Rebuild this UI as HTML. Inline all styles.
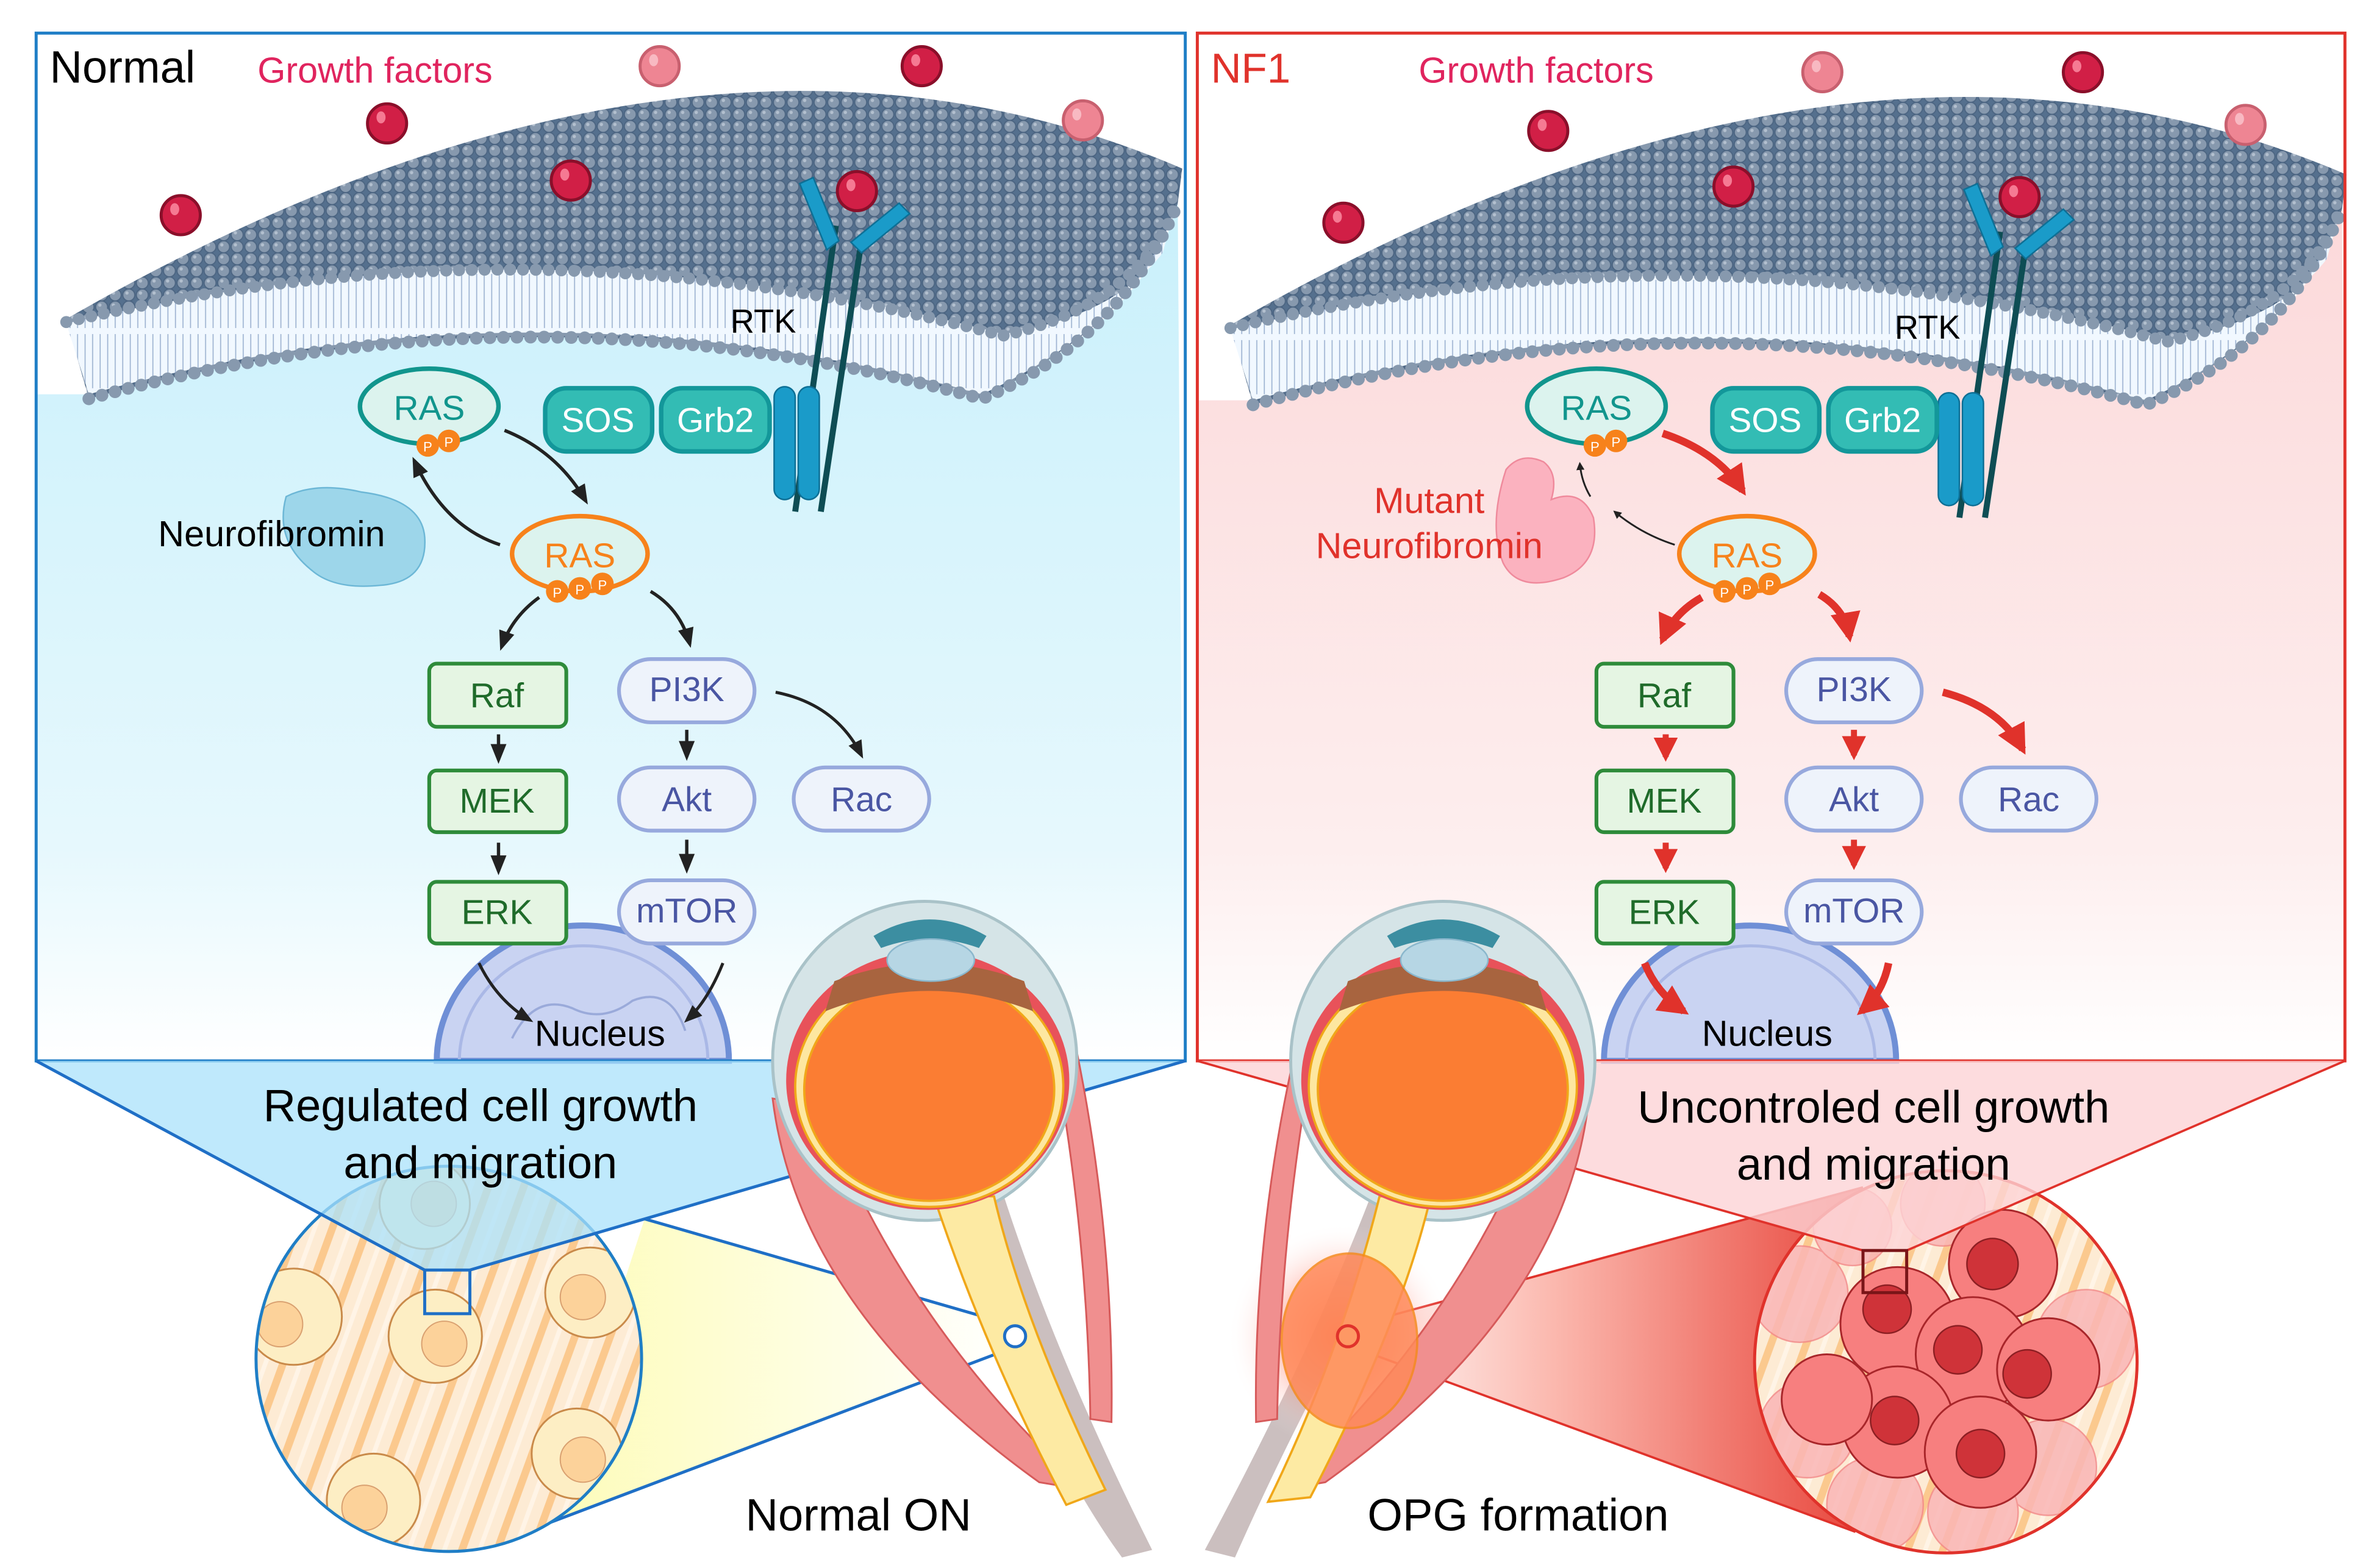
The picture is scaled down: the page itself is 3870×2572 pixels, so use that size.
<!DOCTYPE html>
<html><head><meta charset="utf-8"><style>
html,body{margin:0;padding:0;background:#fff}
svg{display:block}
text{font-family:"Liberation Sans",sans-serif}
</style></head><body>
<svg width="3870" height="2572" viewBox="0 0 1567 1042" preserveAspectRatio="none" xmlns="http://www.w3.org/2000/svg">
<defs>
<pattern id="heads" width="9" height="8" patternUnits="userSpaceOnUse">
<rect width="9" height="8" fill="#55708e"/>
<circle cx="4.5" cy="4" r="4" fill="#8799ae" stroke="#4c6582" stroke-width="0.8"/>
<circle cx="3.3" cy="2.7" r="1.1" fill="#b3c0cf"/>
</pattern>
<pattern id="tails" width="5" height="40" patternUnits="userSpaceOnUse">
<rect width="5" height="40" fill="#f1f8ff"/>
<line x1="1.5" y1="0" x2="1.5" y2="18" stroke="#9fb4d2" stroke-width="0.7"/>
<line x1="1.5" y1="22" x2="1.5" y2="40" stroke="#9fb4d2" stroke-width="0.7"/>
</pattern>
<linearGradient id="bgB" x1="0" y1="0" x2="0" y2="1"><stop offset="0" stop-color="#c9f0fb"/><stop offset="0.75" stop-color="#e6f8fd"/><stop offset="1" stop-color="#ffffff"/></linearGradient>
<linearGradient id="bgR" x1="0" y1="0" x2="0" y2="1"><stop offset="0" stop-color="#fcd9da"/><stop offset="0.75" stop-color="#fdeeee"/><stop offset="1" stop-color="#ffffff"/></linearGradient>
<linearGradient id="yel" x1="0" y1="0" x2="1" y2="0"><stop offset="0" stop-color="#fdfcb8"/><stop offset="1" stop-color="#ffffff"/></linearGradient>
<linearGradient id="redf" x1="0" y1="0" x2="1" y2="0"><stop offset="0" stop-color="#ffffff"/><stop offset="0.4" stop-color="#fbb8ae"/><stop offset="1" stop-color="#e8463c"/></linearGradient>
<radialGradient id="glow"><stop offset="0" stop-color="#ff5a3a" stop-opacity="0.9"/><stop offset="0.5" stop-color="#ff7a66" stop-opacity="0.45"/><stop offset="1" stop-color="#ffffff" stop-opacity="0"/></radialGradient>
<pattern id="stripes" width="22" height="22" patternUnits="userSpaceOnUse" patternTransform="rotate(20)">
<rect width="22" height="22" fill="#fdebd4"/><rect x="0" width="5" height="22" fill="#fbc98e"/><rect x="12" width="3" height="22" fill="#fff4e6"/>
</pattern>
<clipPath id="cL"><circle cx="298" cy="903" r="127"/></clipPath>
<clipPath id="cR"><circle cx="1292" cy="905" r="126"/></clipPath>
<marker id="ab" viewBox="0 0 10 10" refX="8" refY="5" markerWidth="4.5" markerHeight="4.5" orient="auto"><path d="M0,0 L10,5 L0,10 z" fill="#222"/></marker>
<marker id="abs" viewBox="0 0 10 10" refX="8" refY="5" markerWidth="6" markerHeight="6" orient="auto"><path d="M0,1 L10,5 L0,9 z" fill="#222"/></marker>
<marker id="ar" viewBox="0 0 10 10" refX="8" refY="5" markerWidth="4" markerHeight="4" orient="auto"><path d="M0,0 L10,5 L0,10 z" fill="#e0322b"/></marker>
<g id="membrane">
<path d="M44,212 Q459,-28 785,112 L782,135 Q760,210 652,265 Q355,183 59,265 Z" fill="url(#heads)"/>
<path d="M44,215 Q355,140 666,222 Q740,210 772,168 L782,132 Q760,212 652,262 Q355,180 59,262 Z" fill="url(#tails)"/>
<path d="M44,214 Q355,140 666,223 Q745,205 775,150" fill="none" stroke="#8799ae" stroke-width="8" stroke-dasharray="0 8.5" stroke-linecap="round"/>
<path d="M59,265 Q355,183 652,265 Q745,225 782,135" fill="none" stroke="#8799ae" stroke-width="8.5" stroke-dasharray="0 9" stroke-linecap="round"/>
</g>
<g id="rtk">
<line x1="555" y1="150" x2="528" y2="340" stroke="#0e4d54" stroke-width="4"/>
<line x1="572" y1="160" x2="545" y2="340" stroke="#0e4d54" stroke-width="4"/>
<path d="M531,122 L540,118 L557,160 L549,166 Z" fill="#1a9bc9" stroke="#0d6f95"/>
<path d="M597,135 L604,142 L572,168 L565,161 Z" fill="#1a9bc9" stroke="#0d6f95"/>
<rect x="514" y="257" width="14" height="75" rx="7" fill="#1a9bc9" stroke="#0d6f95"/>
<rect x="530" y="257" width="14" height="75" rx="7" fill="#1a9bc9" stroke="#0d6f95"/>
<text x="485" y="221" font-size="22" fill="#000">RTK</text>
</g>
<g id="ball"><ellipse cx="0" cy="0" rx="13" ry="13" fill="#d11f46" stroke="#8a0f2a" stroke-width="2"/><ellipse cx="-4" cy="-4" rx="3" ry="4" fill="#f57a93"/></g>
<g id="ballL"><ellipse cx="0" cy="0" rx="13" ry="13" fill="#ee8593" stroke="#c8606f" stroke-width="2"/><ellipse cx="-4" cy="-4" rx="3" ry="4" fill="#f8b9c2"/></g>
</defs>

<!-- ============ LEFT PANEL ============ -->
<rect x="24" y="22" width="763" height="683" fill="#fff"/>
<path d="M56,262 Q355,180 652,262 Q760,215 782,135 L786,705 L24,705 L24,262 Z" fill="url(#bgB)"/>
<use href="#membrane"/>
<use href="#rtk"/>
<use href="#ballL" x="438" y="44"/><use href="#ball" x="612" y="44"/><use href="#ball" x="257" y="82"/><use href="#ballL" x="719" y="80"/><use href="#ball" x="120" y="143"/><use href="#ball" x="379" y="120"/><use href="#ball" x="569" y="127"/>
<text x="33" y="55" font-size="30" fill="#000">Normal</text>
<text x="171" y="55" font-size="24" fill="#e0245e">Growth factors</text>

<path d="M290,705 A97,90 0 0 1 484,705 Z" fill="#c9d3f2" stroke="#6f8fd6" stroke-width="4"/>
<path d="M305,705 A82,76 0 0 1 470,705" fill="none" stroke="#aab8e6" stroke-width="2"/>
<path d="M340,690 q15,-30 40,-20 q20,10 40,-5 q25,-10 35,20" fill="none" stroke="#9aaada" stroke-width="1.5"/>
<text x="355" y="695" font-size="24" fill="#000">Nucleus</text>

<path d="M190,330 q20,-10 50,-3 q40,5 42,30 q2,30 -30,32 q-30,3 -45,-10 q-25,-20 -17,-49z" fill="#9dd6ea" stroke="#6cb7d6"/>
<text x="105" y="363" font-size="24" fill="#000">Neurofibromin</text>

<ellipse cx="285" cy="270" rx="46" ry="25" fill="#dcf3ee" stroke="#11958d" stroke-width="3"/>
<text x="285" y="279" font-size="23" fill="#11958d" text-anchor="middle">RAS</text>
<circle cx="284" cy="296" r="7.5" fill="#f7821b"/><circle cx="298" cy="293" r="7.5" fill="#f7821b"/>
<text x="284" y="300" font-size="9" fill="#fff" text-anchor="middle">P</text><text x="298" y="297" font-size="9" fill="#fff" text-anchor="middle">P</text>
<rect x="362" y="258" width="71" height="42" rx="14" fill="#33bcb4" stroke="#13979a" stroke-width="3"/>
<text x="397" y="287" font-size="23" fill="#fff" text-anchor="middle">SOS</text>
<rect x="439" y="258" width="72" height="42" rx="14" fill="#33bcb4" stroke="#13979a" stroke-width="3"/>
<text x="475" y="287" font-size="23" fill="#fff" text-anchor="middle">Grb2</text>
<ellipse cx="385" cy="368" rx="45" ry="25" fill="#dcf3ee" stroke="#f7821b" stroke-width="3"/>
<text x="385" y="377" font-size="23" fill="#f7821b" text-anchor="middle">RAS</text>
<circle cx="370" cy="393" r="7.5" fill="#f7821b"/><circle cx="385" cy="391" r="7.5" fill="#f7821b"/><circle cx="400" cy="388" r="7.5" fill="#f7821b"/>
<text x="370" y="397" font-size="9" fill="#fff" text-anchor="middle">P</text><text x="385" y="395" font-size="9" fill="#fff" text-anchor="middle">P</text><text x="400" y="392" font-size="9" fill="#fff" text-anchor="middle">P</text>
<path d="M335,286 Q370,300 389,333" fill="none" stroke="#222" stroke-width="2.2" marker-end="url(#abs)"/>
<path d="M332,362 Q295,350 275,306" fill="none" stroke="#222" stroke-width="2.2" marker-end="url(#abs)"/>
<path d="M358,397 Q340,410 333,430" fill="none" stroke="#222" stroke-width="2.2" marker-end="url(#abs)"/>
<path d="M432,393 Q452,405 458,428" fill="none" stroke="#222" stroke-width="2.2" marker-end="url(#abs)"/>
<path d="M515,460 Q555,468 572,502" fill="none" stroke="#222" stroke-width="2" marker-end="url(#abs)"/>
<line x1="331" y1="488" x2="331" y2="505" stroke="#222" stroke-width="2.2" marker-end="url(#abs)"/>
<line x1="331" y1="560" x2="331" y2="579" stroke="#222" stroke-width="2.2" marker-end="url(#abs)"/>
<line x1="456" y1="485" x2="456" y2="503" stroke="#222" stroke-width="2.2" marker-end="url(#abs)"/>
<line x1="456" y1="558" x2="456" y2="578" stroke="#222" stroke-width="2.2" marker-end="url(#abs)"/>
<path d="M318,640 Q330,665 352,678" fill="none" stroke="#222" stroke-width="2" marker-end="url(#abs)"/>
<path d="M480,640 Q470,665 456,678" fill="none" stroke="#222" stroke-width="2" marker-end="url(#abs)"/>
<g font-size="23" text-anchor="middle">
<rect x="285" y="441" width="91" height="42" rx="5" fill="#e5f5e3" stroke="#2e8b3a" stroke-width="2.5"/><text x="330" y="470" fill="#1f6b2a">Raf</text>
<rect x="285" y="512" width="91" height="41" rx="5" fill="#e5f5e3" stroke="#2e8b3a" stroke-width="2.5"/><text x="330" y="540" fill="#1f6b2a">MEK</text>
<rect x="285" y="586" width="91" height="41" rx="5" fill="#e5f5e3" stroke="#2e8b3a" stroke-width="2.5"/><text x="330" y="614" fill="#1f6b2a">ERK</text>
<rect x="411" y="438" width="90" height="42" rx="21" fill="#eef3fb" stroke="#97a9dd" stroke-width="2.5"/><text x="456" y="466" fill="#4a56a3">PI3K</text>
<rect x="411" y="510" width="90" height="42" rx="21" fill="#eef3fb" stroke="#97a9dd" stroke-width="2.5"/><text x="456" y="539" fill="#4a56a3">Akt</text>
<rect x="411" y="585" width="90" height="42" rx="21" fill="#eef3fb" stroke="#97a9dd" stroke-width="2.5"/><text x="456" y="613" fill="#4a56a3">mTOR</text>
<rect x="527" y="510" width="90" height="42" rx="21" fill="#eef3fb" stroke="#97a9dd" stroke-width="2.5"/><text x="572" y="539" fill="#4a56a3">Rac</text>
</g>
<rect x="24" y="22" width="763" height="683" fill="none" stroke="#1f7ec6" stroke-width="2"/>

<!-- ============ RIGHT PANEL ============ -->
<rect x="795" y="22" width="762" height="683" fill="#fff"/>
<g transform="translate(773,4)">
<path d="M56,262 Q355,180 652,262 Q760,215 782,135 L786,701 L22,701 L22,262 Z" fill="url(#bgR)"/>
<use href="#membrane"/>
<use href="#rtk"/>
</g>
<use href="#ballL" x="1210" y="48"/><use href="#ball" x="1383" y="48"/><use href="#ball" x="1028" y="87"/><use href="#ballL" x="1491" y="83"/><use href="#ball" x="892" y="148"/><use href="#ball" x="1151" y="124"/><use href="#ball" x="1341" y="131"/>
<text x="804" y="55" font-size="28" fill="#e0322b">NF1</text>
<text x="942" y="55" font-size="24" fill="#e0245e">Growth factors</text>

<path d="M1065,705 A97,90 0 0 1 1259,705 Z" fill="#c9d3f2" stroke="#6f8fd6" stroke-width="4"/>
<path d="M1080,705 A82,76 0 0 1 1245,705" fill="none" stroke="#aab8e6" stroke-width="2"/>
<text x="1130" y="695" font-size="24" fill="#000">Nucleus</text>

<path d="M1000,312 q10,-12 25,-5 q10,8 5,25 q20,-8 28,12 q5,30 -20,40 q-30,10 -40,-10 q-10,-25 2,-62z" fill="#fbb2bf" stroke="#ef8a9c"/>
<text x="949" y="341" font-size="24" fill="#e0322b" text-anchor="middle">Mutant</text>
<text x="949" y="371" font-size="24" fill="#e0322b" text-anchor="middle">Neurofibromin</text>

<ellipse cx="1060" cy="270" rx="46" ry="25" fill="#dcf3ee" stroke="#11958d" stroke-width="3"/>
<text x="1060" y="279" font-size="23" fill="#11958d" text-anchor="middle">RAS</text>
<circle cx="1059" cy="296" r="7.5" fill="#f7821b"/><circle cx="1073" cy="293" r="7.5" fill="#f7821b"/>
<text x="1059" y="300" font-size="9" fill="#fff" text-anchor="middle">P</text><text x="1073" y="297" font-size="9" fill="#fff" text-anchor="middle">P</text>
<rect x="1137" y="258" width="71" height="42" rx="14" fill="#33bcb4" stroke="#13979a" stroke-width="3"/>
<text x="1172" y="287" font-size="23" fill="#fff" text-anchor="middle">SOS</text>
<rect x="1214" y="258" width="72" height="42" rx="14" fill="#33bcb4" stroke="#13979a" stroke-width="3"/>
<text x="1250" y="287" font-size="23" fill="#fff" text-anchor="middle">Grb2</text>
<ellipse cx="1160" cy="368" rx="45" ry="25" fill="#dcf3ee" stroke="#f7821b" stroke-width="3"/>
<text x="1160" y="377" font-size="23" fill="#f7821b" text-anchor="middle">RAS</text>
<circle cx="1145" cy="393" r="7.5" fill="#f7821b"/><circle cx="1160" cy="391" r="7.5" fill="#f7821b"/><circle cx="1175" cy="388" r="7.5" fill="#f7821b"/>
<text x="1145" y="397" font-size="9" fill="#fff" text-anchor="middle">P</text><text x="1160" y="395" font-size="9" fill="#fff" text-anchor="middle">P</text><text x="1175" y="392" font-size="9" fill="#fff" text-anchor="middle">P</text>
<path d="M1104,288 Q1140,300 1157,326" fill="none" stroke="#e0322b" stroke-width="5" marker-end="url(#ar)"/>
<path d="M1112,362 Q1090,355 1072,340" fill="none" stroke="#222" stroke-width="1.2" marker-end="url(#ab)"/>
<path d="M1056,330 Q1050,320 1049,308" fill="none" stroke="#222" stroke-width="1.2" marker-end="url(#ab)"/>
<path d="M1130,397 Q1112,407 1104,425" fill="none" stroke="#e0322b" stroke-width="5" marker-end="url(#ar)"/>
<path d="M1208,395 Q1225,405 1228,423" fill="none" stroke="#e0322b" stroke-width="5" marker-end="url(#ar)"/>
<path d="M1290,460 Q1328,470 1343,498" fill="none" stroke="#e0322b" stroke-width="5" marker-end="url(#ar)"/>
<line x1="1106" y1="488" x2="1106" y2="503" stroke="#e0322b" stroke-width="4" marker-end="url(#ar)"/>
<line x1="1106" y1="560" x2="1106" y2="577" stroke="#e0322b" stroke-width="4" marker-end="url(#ar)"/>
<line x1="1231" y1="485" x2="1231" y2="502" stroke="#e0322b" stroke-width="4" marker-end="url(#ar)"/>
<line x1="1231" y1="558" x2="1231" y2="575" stroke="#e0322b" stroke-width="4" marker-end="url(#ar)"/>
<path d="M1092,640 Q1100,660 1118,672" fill="none" stroke="#e0322b" stroke-width="5" marker-end="url(#ar)"/>
<path d="M1254,640 Q1250,660 1236,672" fill="none" stroke="#e0322b" stroke-width="5" marker-end="url(#ar)"/>
<g font-size="23" text-anchor="middle">
<rect x="1060" y="441" width="91" height="42" rx="5" fill="#e5f5e3" stroke="#2e8b3a" stroke-width="2.5"/><text x="1105" y="470" fill="#1f6b2a">Raf</text>
<rect x="1060" y="512" width="91" height="41" rx="5" fill="#e5f5e3" stroke="#2e8b3a" stroke-width="2.5"/><text x="1105" y="540" fill="#1f6b2a">MEK</text>
<rect x="1060" y="586" width="91" height="41" rx="5" fill="#e5f5e3" stroke="#2e8b3a" stroke-width="2.5"/><text x="1105" y="614" fill="#1f6b2a">ERK</text>
<rect x="1186" y="438" width="90" height="42" rx="21" fill="#eef3fb" stroke="#97a9dd" stroke-width="2.5"/><text x="1231" y="466" fill="#4a56a3">PI3K</text>
<rect x="1186" y="510" width="90" height="42" rx="21" fill="#eef3fb" stroke="#97a9dd" stroke-width="2.5"/><text x="1231" y="539" fill="#4a56a3">Akt</text>
<rect x="1186" y="585" width="90" height="42" rx="21" fill="#eef3fb" stroke="#97a9dd" stroke-width="2.5"/><text x="1231" y="613" fill="#4a56a3">mTOR</text>
<rect x="1302" y="510" width="90" height="42" rx="21" fill="#eef3fb" stroke="#97a9dd" stroke-width="2.5"/><text x="1347" y="539" fill="#4a56a3">Rac</text>
</g>
<rect x="795" y="22" width="762" height="683" fill="none" stroke="#e0322b" stroke-width="2"/>

<!-- ============ BOTTOM ============ -->
<path d="M428,810 L674,881 L674,895 L362,1013 Z" fill="url(#yel)"/>
<line x1="428" y1="810" x2="674" y2="881" stroke="#1f6fc6" stroke-width="2"/>
<line x1="362" y1="1013" x2="674" y2="895" stroke="#1f6fc6" stroke-width="2"/>
<path d="M895,882 L1237,789 L1232,1018 L895,894 Z" fill="url(#redf)"/>
<line x1="895" y1="882" x2="1237" y2="789" stroke="#e0322b" stroke-width="1.5"/>
<line x1="895" y1="894" x2="1232" y2="1018" stroke="#e0322b" stroke-width="1.5"/>

<circle cx="298" cy="903" r="128" fill="url(#stripes)"/>
<g clip-path="url(#cL)">
<g fill="#fdeec4" stroke="#c98a4a" stroke-width="1.2">
<circle cx="195" cy="875" r="32"/><circle cx="289" cy="888" r="31"/><circle cx="392" cy="859" r="30"/><circle cx="248" cy="997" r="31"/><circle cx="383" cy="966" r="30"/><circle cx="282" cy="800" r="30"/>
</g>
<g fill="#fcd29a" stroke="#d9a070" stroke-width="0.8">
<circle cx="186" cy="880" r="15"/><circle cx="295" cy="893" r="15"/><circle cx="387" cy="862" r="15"/><circle cx="242" cy="1002" r="15"/><circle cx="387" cy="970" r="15"/><circle cx="288" cy="800" r="15"/>
</g>
</g>
<circle cx="298" cy="903" r="128" fill="none" stroke="#1f7ec6" stroke-width="2"/>

<circle cx="1292" cy="905" r="127" fill="url(#stripes)"/>
<g clip-path="url(#cR)">
<g fill="#f9b6b6" stroke="#f28a8a" stroke-width="1" opacity="0.85">
<circle cx="1195" cy="860" r="32"/><circle cx="1200" cy="950" r="32"/><circle cx="1385" cy="890" r="33"/><circle cx="1360" cy="975" r="32"/><circle cx="1245" cy="1000" r="32"/><circle cx="1310" cy="1005" r="30"/><circle cx="1290" cy="800" r="28"/><circle cx="1230" cy="815" r="26"/>
</g>
<g fill="#f77f7f" stroke="#a8262a" stroke-width="1.2">
<circle cx="1260" cy="880" r="38"/><circle cx="1330" cy="840" r="36"/><circle cx="1310" cy="900" r="38"/><circle cx="1360" cy="910" r="34"/><circle cx="1260" cy="945" r="37"/><circle cx="1315" cy="965" r="37"/><circle cx="1213" cy="930" r="30"/>
</g>
<g fill="#cf3339" stroke="#8c1f23" stroke-width="1">
<circle cx="1253" cy="870" r="16"/><circle cx="1323" cy="840" r="17"/><circle cx="1300" cy="897" r="16"/><circle cx="1346" cy="913" r="16"/><circle cx="1258" cy="944" r="16"/><circle cx="1315" cy="966" r="16"/>
</g>
</g>
<circle cx="1292" cy="905" r="127" fill="none" stroke="#e0322b" stroke-width="2"/>

<path d="M24,705 L787,705 L312,844 L282,844 Z" fill="#a9e2fb" fill-opacity="0.75"/>
<path d="M24,705 L282,844 M787,705 L312,844" stroke="#1f6fc6" stroke-width="2"/>
<rect x="282" y="844" width="30" height="29" fill="none" stroke="#1f6fc6" stroke-width="2"/>
<path d="M795,705 L1557,705 L1266,831 L1237,831 Z" fill="#fdd3d6" fill-opacity="0.8"/>
<path d="M795,705 L1237,831 M1557,705 L1266,831" stroke="#e0322b" stroke-width="1.5"/>
<rect x="1237" y="831" width="29" height="28" fill="none" stroke="#7a1518" stroke-width="2"/>

<text x="319" y="745" font-size="30" fill="#000" text-anchor="middle">Regulated cell growth</text>
<text x="319" y="783" font-size="30" fill="#000" text-anchor="middle">and migration</text>
<text x="1244" y="746" font-size="30" fill="#000" text-anchor="middle">Uncontroled cell growth</text>
<text x="1244" y="784" font-size="30" fill="#000" text-anchor="middle">and migration</text>

<!-- ===== LEFT EYE ===== -->
<path d="M625,790 L665,790 Q700,900 765,1030 L745,1035 Q690,960 625,790 Z" fill="#cbbfbf"/>
<path d="M513,730 Q530,870 690,985 L720,990 Q600,880 545,735 Z" fill="#f08f8f" stroke="#d65a5a" stroke-width="1.2"/>
<path d="M714,694 Q740,820 738,945 L724,943 Q722,820 700,700 Z" fill="#f08f8f" stroke="#d65a5a" stroke-width="1.2"/>
<ellipse cx="614" cy="705" rx="101" ry="106" fill="#d5e4e7" stroke="#a9c2c8" stroke-width="2"/>
<path d="M620,795 L660,795 Q680,880 734,990 L708,1000 Q655,900 620,795 Z" fill="#fdeaa3" stroke="#f0a719" stroke-width="1.5"/>
<ellipse cx="616" cy="718" rx="94" ry="86" fill="#e8525a"/>
<ellipse cx="617" cy="722" rx="89" ry="80" fill="#fde7a0" stroke="#f0a719" stroke-width="1.5"/>
<ellipse cx="617" cy="724" rx="83" ry="74" fill="#fb7d33" stroke="#f0a719" stroke-width="1.5"/>
<path d="M548,672 Q617,645 686,672 L680,652 Q617,628 554,652 Z" fill="#a8643f"/>
<path d="M580,622 Q617,600 655,622 L650,630 Q617,618 585,630 Z" fill="#3c8ea1"/>
<ellipse cx="618" cy="638" rx="29" ry="14" fill="#b6d6e4" stroke="#8ab7cc"/>

<!-- ===== RIGHT EYE ===== -->
<path d="M912,790 L950,790 Q880,900 820,1035 L800,1030 Q870,900 912,790 Z" fill="#cbbfbf"/>
<circle cx="890" cy="888" r="75" fill="url(#glow)"/>
<path d="M1055,730 Q1040,870 880,985 L850,990 Q970,880 1025,735 Z" fill="#f08f8f" stroke="#d65a5a" stroke-width="1.2"/>
<path d="M861,694 Q832,820 834,945 L848,943 Q850,820 872,700 Z" fill="#f08f8f" stroke="#d65a5a" stroke-width="1.2"/>
<ellipse cx="958" cy="705" rx="101" ry="106" fill="#d5e4e7" stroke="#a9c2c8" stroke-width="2"/>
<path d="M916,795 L950,795 Q930,880 870,995 L842,998 Q890,900 916,795 Z" fill="#fdeaa3" stroke="#f0a719" stroke-width="1.5"/>
<ellipse cx="896" cy="891" rx="45" ry="58" fill="#ff8a5a" stroke="#f58a1f" stroke-width="1.5" opacity="0.85"/>
<ellipse cx="958" cy="718" rx="94" ry="86" fill="#e8525a"/>
<ellipse cx="958" cy="722" rx="89" ry="80" fill="#fde7a0" stroke="#f0a719" stroke-width="1.5"/>
<ellipse cx="958" cy="724" rx="83" ry="74" fill="#fb7d33" stroke="#f0a719" stroke-width="1.5"/>
<path d="M889,672 Q958,645 1027,672 L1021,652 Q958,628 895,652 Z" fill="#a8643f"/>
<path d="M921,622 Q958,600 996,622 L991,630 Q958,618 926,630 Z" fill="#3c8ea1"/>
<ellipse cx="959" cy="638" rx="29" ry="14" fill="#b6d6e4" stroke="#8ab7cc"/>

<circle cx="674" cy="888" r="7" fill="#fff" stroke="#1f6fc6" stroke-width="2"/>
<circle cx="895" cy="888" r="7" fill="none" stroke="#e0322b" stroke-width="2"/>

<text x="570" y="1017" font-size="30" fill="#000" text-anchor="middle">Normal ON</text>
<text x="1008" y="1017" font-size="30" fill="#000" text-anchor="middle">OPG formation</text>
</svg>
</body></html>
